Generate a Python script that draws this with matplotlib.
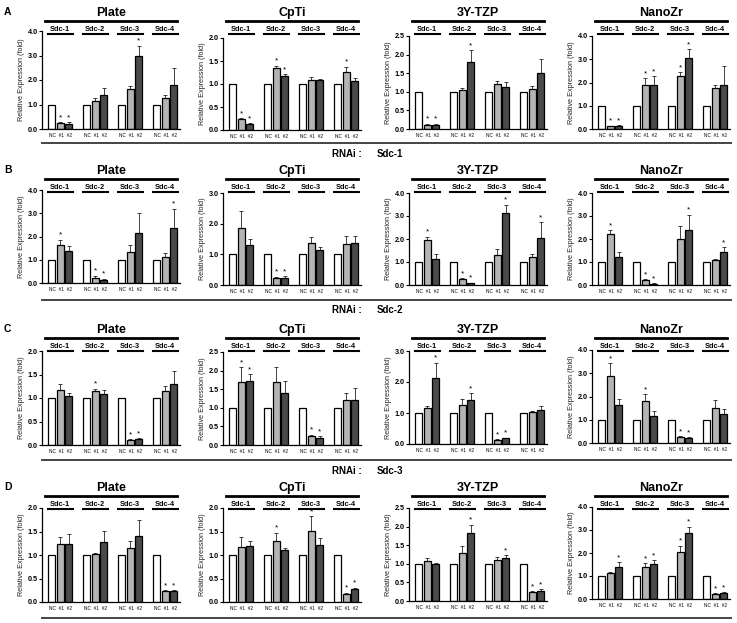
import matplotlib
matplotlib.use("Agg")
import matplotlib.pyplot as plt
from matplotlib.transforms import blended_transform_factory

plt.rcParams['font.family'] = ['Liberation Sans', 'DejaVu Sans']

W, H = 737, 623

substrates = ['Plate', 'CpTi', '3Y-TZP', 'NanoZr']
genes = ['Sdc-1', 'Sdc-2', 'Sdc-3', 'Sdc-4']
row_letters = ['A', 'B', 'C', 'D']
rnai_labels = ['Sdc-1', 'Sdc-2', 'Sdc-3']

# per row: y-axis maximum of each substrate panel
ymax_A = [4.0, 2.0, 2.5, 4.0]
ymax_B = [4.0, 3.0, 4.0, 4.0]
ymax_C = [2.0, 2.5, 3.0, 4.0]
ymax_D = [2.0, 2.0, 2.5, 4.0]

# means: NC, #1, #2 for Sdc-1..Sdc-4, one list per substrate
means_A = [
    [1.0, 0.25, 0.22, 1.0, 1.15, 1.38, 1.0, 1.62, 2.98, 1.0, 1.27, 1.78],
    [1.0, 0.23, 0.13, 1.0, 1.35, 1.18, 1.0, 1.08, 1.09, 1.0, 1.27, 1.07],
    [1.0, 0.12, 0.12, 1.0, 1.06, 1.79, 1.0, 1.20, 1.13, 1.0, 1.07, 1.50],
    [1.0, 0.12, 0.13, 1.0, 1.90, 1.88, 1.0, 2.27, 3.07, 1.0, 1.77, 1.90],
]
errs_A = [
    [0, 0.03, 0.05, 0, 0.10, 0.28, 0, 0.12, 0.42, 0, 0.10, 0.70],
    [0, 0.03, 0.02, 0, 0.05, 0.03, 0, 0.07, 0.01, 0, 0.10, 0.06],
    [0, 0.02, 0.02, 0, 0.05, 0.33, 0, 0.09, 0.13, 0, 0.08, 0.38],
    [0, 0.02, 0.03, 0, 0.28, 0.38, 0, 0.18, 0.37, 0, 0.13, 0.80],
]
stars_A = [
    [0, 1, 1, 0, 0, 0, 0, 0, 1, 0, 0, 0],
    [0, 1, 1, 0, 1, 1, 0, 0, 0, 0, 1, 0],
    [0, 1, 1, 0, 0, 1, 0, 0, 0, 0, 0, 0],
    [0, 1, 1, 0, 1, 1, 0, 1, 1, 0, 0, 0],
]

means_B = [
    [1.0, 1.65, 1.38, 1.0, 0.20, 0.12, 1.0, 1.32, 2.13, 1.0, 1.13, 2.37],
    [1.0, 1.85, 1.29, 1.0, 0.22, 0.23, 1.0, 1.37, 1.15, 1.0, 1.33, 1.37],
    [1.0, 1.95, 1.13, 1.0, 0.25, 0.07, 1.0, 1.30, 3.12, 1.0, 1.23, 2.05],
    [1.0, 2.23, 1.22, 1.0, 0.22, 0.05, 1.0, 2.00, 2.40, 1.0, 1.07, 1.45],
]
errs_B = [
    [0, 0.22, 0.20, 0, 0.12, 0.07, 0, 0.33, 0.88, 0, 0.18, 0.82],
    [0, 0.55, 0.22, 0, 0.05, 0.05, 0, 0.18, 0.08, 0, 0.27, 0.22],
    [0, 0.15, 0.20, 0, 0.05, 0.03, 0, 0.28, 0.37, 0, 0.10, 0.68],
    [0, 0.15, 0.20, 0, 0.04, 0.03, 0, 0.55, 0.65, 0, 0.07, 0.20],
]
stars_B = [
    [0, 1, 0, 0, 1, 1, 0, 0, 0, 0, 0, 1],
    [0, 0, 0, 0, 1, 1, 0, 0, 0, 0, 0, 0],
    [0, 1, 0, 0, 1, 1, 0, 0, 1, 0, 0, 1],
    [0, 1, 0, 0, 1, 1, 0, 0, 1, 0, 0, 1],
]

means_C = [
    [1.0, 1.16, 1.04, 1.0, 1.15, 1.09, 1.0, 0.10, 0.12, 1.0, 1.15, 1.30],
    [1.0, 1.69, 1.72, 1.0, 1.69, 1.39, 1.0, 0.25, 0.20, 1.0, 1.22, 1.22],
    [1.0, 1.17, 2.12, 1.0, 1.25, 1.43, 1.0, 0.14, 0.18, 1.0, 1.02, 1.09],
    [1.0, 2.88, 1.62, 1.0, 1.80, 1.17, 1.0, 0.25, 0.20, 1.0, 1.52, 1.25],
]
errs_C = [
    [0, 0.14, 0.06, 0, 0.05, 0.08, 0, 0.02, 0.02, 0, 0.10, 0.27],
    [0, 0.40, 0.18, 0, 0.42, 0.32, 0, 0.03, 0.03, 0, 0.17, 0.30],
    [0, 0.05, 0.50, 0, 0.20, 0.20, 0, 0.02, 0.02, 0, 0.03, 0.15],
    [0, 0.55, 0.28, 0, 0.30, 0.20, 0, 0.03, 0.05, 0, 0.35, 0.20],
]
stars_C = [
    [0, 0, 0, 0, 1, 0, 0, 1, 1, 0, 0, 0],
    [0, 1, 1, 0, 0, 0, 0, 1, 1, 0, 0, 0],
    [0, 0, 1, 0, 0, 1, 0, 1, 1, 0, 0, 0],
    [0, 1, 0, 0, 1, 0, 0, 1, 1, 0, 0, 0],
]

means_D = [
    [1.0, 1.23, 1.23, 1.0, 1.02, 1.28, 1.0, 1.14, 1.41, 1.0, 0.23, 0.23],
    [1.0, 1.17, 1.20, 1.0, 1.30, 1.10, 1.0, 1.52, 1.22, 1.0, 0.18, 0.28],
    [1.0, 1.08, 1.00, 1.0, 1.28, 1.82, 1.0, 1.10, 1.15, 1.0, 0.23, 0.28],
    [1.0, 1.13, 1.40, 1.0, 1.38, 1.53, 1.0, 2.05, 2.87, 1.0, 0.23, 0.27],
]
errs_D = [
    [0, 0.15, 0.22, 0, 0.03, 0.24, 0, 0.15, 0.33, 0, 0.02, 0.02],
    [0, 0.21, 0.09, 0, 0.17, 0.04, 0, 0.30, 0.14, 0, 0.02, 0.02],
    [0, 0.08, 0.01, 0, 0.20, 0.23, 0, 0.08, 0.08, 0, 0.03, 0.03],
    [0, 0.05, 0.20, 0, 0.17, 0.15, 0, 0.27, 0.27, 0, 0.03, 0.03],
]
stars_D = [
    [0, 0, 0, 0, 0, 0, 0, 0, 0, 0, 1, 1],
    [0, 0, 0, 0, 1, 0, 0, 1, 0, 0, 1, 1],
    [0, 0, 0, 0, 0, 1, 0, 0, 1, 0, 1, 1],
    [0, 0, 1, 0, 1, 1, 0, 1, 1, 0, 1, 1],
]

rows = [
    (ymax_A, means_A, errs_A, stars_A),
    (ymax_B, means_B, errs_B, stars_B),
    (ymax_C, means_C, errs_C, stars_C),
    (ymax_D, means_D, errs_D, stars_D),
]

# layout in pixels
col_left = [42, 223, 409, 592]
col_width = 138
# (top, bottom) pixel of the y axis for each panel
axis_px = [
    [(31, 129), (38, 130), (36, 129), (36, 129)],
    [(190, 283), (193, 285), (193, 285), (193, 285)],
    [(351, 445), (352, 445), (351, 444), (350, 443)],
    [(508, 602), (508, 602), (508, 601), (507, 599)],
]
title_y = [13, 171, 330, 488]
row_line_y = [143, 300, 460, 618]
rnai_y = [154, 310, 471]

bar_colors = ['white', '#b4b4b4', '#4a4a4a']
offsets = [-0.24, 0.0, 0.24]
bar_w = 0.2


def fx(px):
    return px / W


def fy(py):
    return 1 - py / H


fig = plt.figure(figsize=(W / 100, H / 100), dpi=100)

for r, (ymaxs, means, errs, stars) in enumerate(rows):
    for c in range(4):
        top, bot = axis_px[r][c]
        ax = fig.add_axes([fx(col_left[c]), fy(bot), col_width / W, (bot - top) / H])
        for k in range(3):
            xs = [g + offsets[k] for g in range(4)]
            ys = [means[c][3 * g + k] for g in range(4)]
            es = [errs[c][3 * g + k] for g in range(4)]
            ax.bar(xs, ys, width=bar_w, color=bar_colors[k], edgecolor='black',
                   linewidth=0.9, zorder=2)
            ax.errorbar(xs, ys, yerr=[[0] * 4, es], fmt='none', ecolor='#222222',
                        elinewidth=0.6, capsize=1.3, capthick=0.6, zorder=1)
            for g in range(4):
                if stars[c][3 * g + k]:
                    ax.text(xs[g], ys[g] + es[g] + ymaxs[c] * 0.012, '*',
                            ha='center', va='bottom', fontsize=6)
        ax.set_xlim(-0.52, 3.42)
        ax.set_ylim(0, ymaxs[c])
        step = 0.5 if ymaxs[c] <= 2.5 else 1.0
        ticks = []
        t = 0.0
        while t <= ymaxs[c] + 1e-9:
            ticks.append(t)
            t += step
        ax.set_yticks(ticks)
        ax.set_yticklabels(['%.1f' % v for v in ticks], fontsize=5.2, fontweight='bold')
        ax.set_xticks(range(4))
        ax.set_xticklabels(['NC  #1  #2'] * 4, fontsize=3.4)
        ax.tick_params(axis='x', length=0, pad=3)
        ax.tick_params(axis='y', length=2, width=0.8, pad=1)
        for s in ['top', 'right']:
            ax.spines[s].set_visible(False)
        for s in ['left', 'bottom']:
            ax.spines[s].set_linewidth(0.9)
        ax.set_ylabel('Relative Expression (fold)', fontsize=5.2, labelpad=2, color='#222222')

        # panel title with line, gene labels with underlines
        tr = blended_transform_factory(ax.transAxes, fig.transFigure)
        ax.text(0.5, fy(title_y[r]), substrates[c], transform=tr, ha='center',
                va='center', fontsize=9, fontweight='bold')
        ax.plot([0.02, 0.98], [fy(title_y[r] + 8)] * 2, transform=tr, color='black',
                lw=2.0, clip_on=False)
        trd = blended_transform_factory(ax.transData, fig.transFigure)
        for g in range(4):
            ax.text(g, fy(title_y[r] + 16.5), genes[g], transform=trd, ha='center',
                    va='center', fontsize=5.3, fontweight='bold')
            ax.plot([g - 0.36, g + 0.36], [fy(title_y[r] + 20.5)] * 2, transform=trd,
                    color='black', lw=1.5, clip_on=False)

    fig.text(fx(4), fy(title_y[r] - 1), row_letters[r], fontsize=7.5, fontweight='bold',
             ha='left', va='center')
    fig.add_artist(plt.Line2D([fx(42), fx(731)], [fy(row_line_y[r])] * 2,
                              color='#444444', lw=1.4))
    if r < 3:
        fig.text(fx(332), fy(rnai_y[r]), 'RNAi :', fontsize=7, fontweight='bold',
                 ha='left', va='center')
        fig.text(fx(377), fy(rnai_y[r]), rnai_labels[r], fontsize=7, fontweight='bold',
                 ha='left', va='center')

fig.savefig('out.png', dpi=100)
